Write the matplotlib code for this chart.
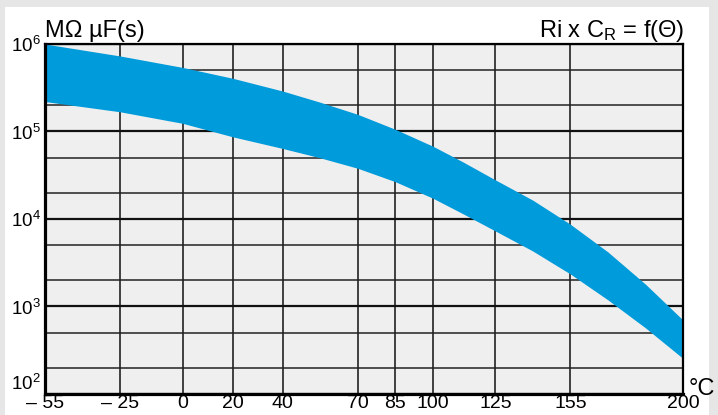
import matplotlib
matplotlib.use("Agg")
import matplotlib.pyplot as plt
from matplotlib.patches import Rectangle
from matplotlib.ticker import NullFormatter

# insulation time constant band, Ri x CR versus temperature
temps = [-55, -25, 0, 20, 40, 55, 70, 85, 100, 112, 125, 140, 155, 170, 185, 200]
band_upper = [1.0e6, 7.3e5, 5.4e5, 4.06e5, 2.9e5, 2.16e5, 1.57e5, 1.06e5, 6.8e4, 4.5e4,
              2.8e4, 1.64e4, 8.7e3, 4.2e3, 1.8e3, 7.0e2]
band_lower = [2.2e5, 1.68e5, 1.24e5, 8.7e4, 6.4e4, 5.0e4, 3.8e4, 2.67e4, 1.73e4, 1.15e4,
              7.3e3, 4.3e3, 2.35e3, 1.19e3, 5.7e2, 2.55e2]

x_ticks = [-55, -25, 0, 20, 40, 70, 85, 100, 125, 155, 200]
x_tick_labels = ["\u2013 55", "\u2013 25", "0", "20", "40", "70", "85", "100", "125", "155", "200"]
y_ticks = [1e2, 1e3, 1e4, 1e5, 1e6]
y_tick_labels = ["$10^{2}$", "$10^{3}$", "$10^{4}$", "$10^{5}$", "$10^{6}$"]
y_minor = [2e2, 5e2, 2e3, 5e3, 2e4, 5e4, 2e5, 5e5]

font = "Liberation Sans"
plt.rcParams["font.family"] = [font, "DejaVu Sans"]
plt.rcParams["mathtext.fontset"] = "custom"
plt.rcParams["mathtext.rm"] = font
plt.rcParams["mathtext.it"] = font

BAND = "#009bdb"
PANEL = "#efefef"

fig = plt.figure(figsize=(7.18, 4.15), dpi=100)
fig.patch.set_facecolor("#e6e6e6")
W, H = 718, 415
fig.add_artist(Rectangle((5 / W, 0), 704 / W, 408 / H, transform=fig.transFigure,
                         facecolor="white", edgecolor="none", zorder=0))

ax = fig.add_axes([45 / W, 1 - 394 / H, 638 / W, 350 / H])
ax.set_facecolor(PANEL)
ax.set_yscale("log")
ax.set_xlim(-55, 200)
ax.set_ylim(1e2, 1e6)

ax.fill_between(temps, band_lower, band_upper, color=BAND, lw=0, zorder=3)

ax.set_xticks(x_ticks)
ax.set_xticklabels(x_tick_labels, fontsize=14)
ax.set_yticks(y_ticks)
ax.set_yticklabels(y_tick_labels, fontsize=13.5)
ax.set_yticks(y_minor, minor=True)
ax.yaxis.set_minor_formatter(NullFormatter())
ax.tick_params(axis="both", which="both", length=0)
ax.tick_params(axis="x", pad=1)
ax.tick_params(axis="y", pad=3)
# lowest decade label sits above the axis so it clears the temperature labels
ax.get_yticklabels()[0].set_va("bottom")

ax.grid(True, axis="y", which="major", color="#111111", lw=1.6, zorder=1)
ax.grid(True, axis="y", which="minor", color="#222222", lw=1.1, zorder=1)
ax.grid(True, axis="x", which="major", color="#222222", lw=1.2, zorder=1)
ax.set_axisbelow(True)

for side in ("left", "bottom"):
    ax.spines[side].set_linewidth(2.3)
for side in ("top", "right"):
    ax.spines[side].set_linewidth(1.6)
for s in ax.spines.values():
    s.set_color("black")
    s.set_zorder(5)

fig.text(45 / W, 1 - 37 / H, "M\u03a9 \u00b5F(s)", fontsize=17, ha="left", va="baseline")
fig.text(684 / W, 1 - 37 / H, "Ri x C$_{\\mathrm{R}}$ = f(\u0398)", fontsize=17,
         ha="right", va="baseline")
fig.text(689 / W, 1 - 395 / H, "\u00b0C", fontsize=17, ha="left", va="baseline")

fig.savefig("out.png", dpi=100)
